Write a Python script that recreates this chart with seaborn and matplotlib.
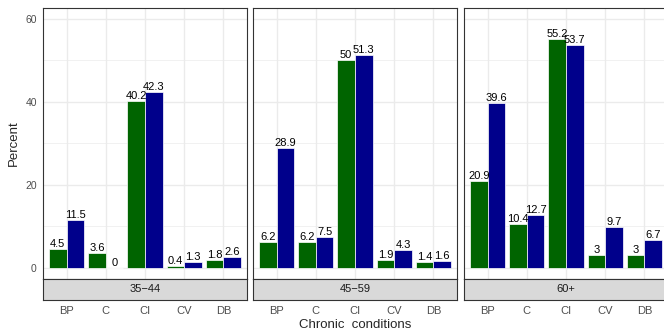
import pandas as pd
import matplotlib.pyplot as plt
from matplotlib.ticker import MultipleLocator
import seaborn as sns

sns.set_style("white")
plt.rcParams['font.family'] = ['Liberation Sans', 'DejaVu Sans']

# data
age_groups = ['35−44', '45−59', '60+']
conditions = ['BP', 'C', 'CI', 'CV', 'DB']
series = ['Group 1', 'Group 2']
group1 = {
    '35−44': [4.5, 3.6, 40.2, 0.4, 1.8],
    '45−59': [6.2, 6.2, 50, 1.9, 1.4],
    '60+': [20.9, 10.4, 55.2, 3, 3],
}
group2 = {
    '35−44': [11.5, 0, 42.3, 1.3, 2.6],
    '45−59': [28.9, 7.5, 51.3, 4.3, 1.6],
    '60+': [39.6, 12.7, 53.7, 9.7, 6.7],
}
colors = ['#006400', '#00008B']

rows = []
for age in age_groups:
    for c, v1, v2 in zip(conditions, group1[age], group2[age]):
        rows.append((age, c, series[0], v1))
        rows.append((age, c, series[1], v2))
df = pd.DataFrame(rows, columns=['age', 'condition', 'group', 'percent'])

W, H = 664, 333
fig = plt.figure(figsize=(W / 100, H / 100), dpi=100)

panel_left = [43, 253, 464]
panel_w = 204
panel_top, panel_bot = 7.7, 279
strip_bot = 300
border = '#333333'

for i, age in enumerate(age_groups):
    l = panel_left[i]
    ax = fig.add_axes([l / W, (H - panel_bot) / H, panel_w / W, (panel_bot - panel_top) / H])
    sub = df[df['age'] == age]
    sns.barplot(data=sub, x='condition', y='percent', hue='group', order=conditions,
                hue_order=series, palette=colors, width=0.9, edgecolor='white',
                linewidth=0.5, saturation=1, legend=False, ax=ax)
    for cont in ax.containers:
        ax.bar_label(cont, fmt='%g', fontsize=8, padding=0, color='black')
    ax.set_xlim(-0.6, 4.6)
    ax.set_ylim(-2.75, 62.7)
    ax.yaxis.set_major_locator(MultipleLocator(20))
    ax.yaxis.set_minor_locator(MultipleLocator(10))
    ax.set_axisbelow(True)
    ax.grid(which='major', color='#EBEBEB', linewidth=1.0)
    ax.grid(which='minor', axis='y', color='#EBEBEB', linewidth=0.5)
    ax.set_xlabel('')
    ax.set_ylabel('')
    ax.tick_params(axis='x', length=0, labelbottom=False)
    ax.tick_params(axis='y', which='minor', length=0)
    if i == 0:
        ax.tick_params(axis='y', which='major', length=3, width=0.6, color=border,
                       labelsize=7.5, labelcolor='#4D4D4D', pad=1.5)
        ax.set_ylabel('Percent', fontsize=9.5, labelpad=4)
    else:
        ax.tick_params(axis='y', which='major', length=0, labelleft=False)
    for s in ax.spines.values():
        s.set_color(border)
        s.set_linewidth(0.8)

    sax = fig.add_axes([l / W, (H - strip_bot) / H, panel_w / W, (strip_bot - panel_bot) / H])
    sax.set_facecolor('#D9D9D9')
    sax.set_xlim(-0.6, 4.6)
    sax.set_ylim(0, 1)
    sax.set_xticks(range(len(conditions)))
    sax.set_xticklabels(conditions)
    sax.set_yticks([])
    sax.tick_params(axis='x', length=3, width=0.6, color=border, labelsize=8,
                    labelcolor='#4D4D4D', pad=1.5)
    sax.text(2, 0.5, age, ha='center', va='center', fontsize=8, color='#1A1A1A')
    for s in sax.spines.values():
        s.set_color(border)
        s.set_linewidth(0.8)

fig.text(355 / W, 1 - 325 / H, 'Chronic  conditions', ha='center', va='center', fontsize=9.5)

fig.savefig('out.png', dpi=100)
